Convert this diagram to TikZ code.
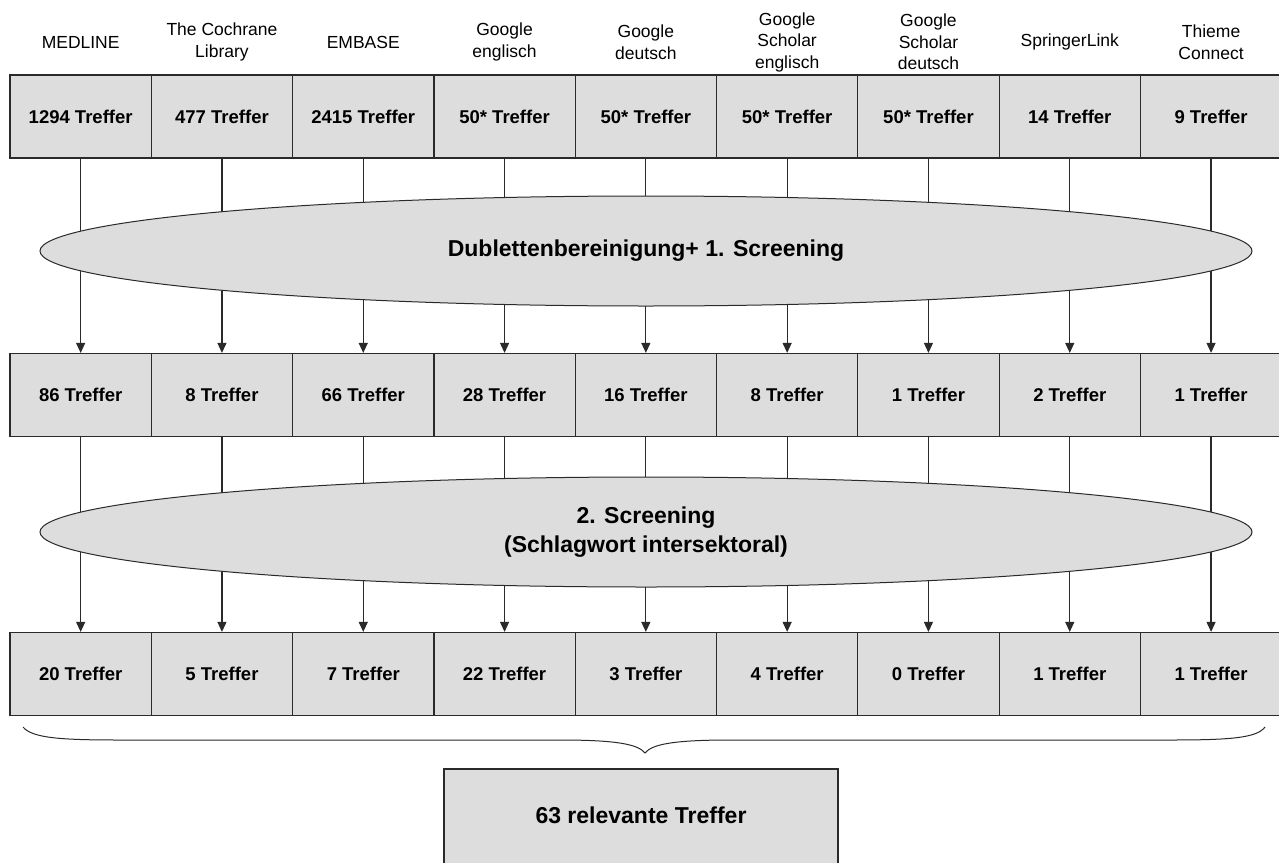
\documentclass[tikz,border=0pt]{standalone}
\usepackage{fontspec}
\setmainfont{Liberation Sans}
\usetikzlibrary{shapes.geometric,arrows.meta}
\definecolor{boxfill}{HTML}{DDDDDD}
\definecolor{linec}{HTML}{2A2A2A}
\begin{document}
\begin{tikzpicture}[x=1pt,y=-1pt,
  cell/.style={draw=linec, line width=1.2pt, fill=boxfill, minimum width=141.3pt, minimum height=83pt, inner sep=0pt, font=\fontsize{18.5}{22}\selectfont\bfseries},
  src/.style={align=center, inner sep=0pt, font=\fontsize{17.5}{21.5}\selectfont},
  proc/.style={ellipse, draw=linec, line width=1pt, fill=boxfill, minimum width=1212pt, minimum height=110pt, inner sep=0pt, align=center, font=\fontsize{23}{29}\selectfont\bfseries},
  arr/.style={-{Triangle[length=10pt,width=9pt]}, draw=linec, line width=1.2pt},
  bracec/.style={draw=linec, line width=1pt}]
\useasboundingbox (0,0) rectangle (1279,862);
\clip (0,0) rectangle (1279,862);
\foreach \i/\lab/\a/\b/\c in {
  1/MEDLINE/1294/86/20,
  2/{The Cochrane\\Library}/477/8/5,
  3/EMBASE/2415/66/7,
  4/{Google\\englisch}/50*/28/22,
  5/{Google\\deutsch}/50*/16/3,
  6/{Google\\Scholar\\englisch}/50*/8/4,
  7/{Google\\Scholar\\deutsch}/50*/1/0,
  8/SpringerLink/14/2/1,
  9/{Thieme\\Connect}/9/1/1}{
  \pgfmathsetmacro{\xx}{80.65+141.3*(\i-1)}
  \node[src] (s\i) at (\xx,42) {\lab};
  \node[cell] (ra\i) at (\xx,116.5) {\a{} Treffer};
  \node[cell] (rb\i) at (\xx,395) {\b{} Treffer};
  \node[cell] (rc\i) at (\xx,674) {\c{} Treffer};
  \draw[arr] (ra\i.south) -- (rb\i.north);
  \draw[arr] (rb\i.south) -- (rc\i.north);
}
\node[proc] (e1) at (646,251) {Dublettenbereinigung+ 1. Screening};
\node[proc] (e2) at (646,532) {2. Screening\\(Schlagwort intersektoral)};
\draw[bracec] (23,727) .. controls (32,738) and (60,740) .. (120,740) -- (560,740)
  .. controls (615,740) and (638,744) .. (645,753)
  .. controls (652,744) and (675,740) .. (730,740) -- (1170,740)
  .. controls (1230,740) and (1257,738) .. (1265,727);
\node[draw=linec, line width=1.2pt, fill=boxfill, minimum width=394pt, minimum height=111pt, inner sep=0pt] (final) at (641,824.5) {};
\node[font=\fontsize{23}{27}\selectfont\bfseries] (finaltxt) at (641,815) {63 relevante Treffer};
\end{tikzpicture}
\end{document}
